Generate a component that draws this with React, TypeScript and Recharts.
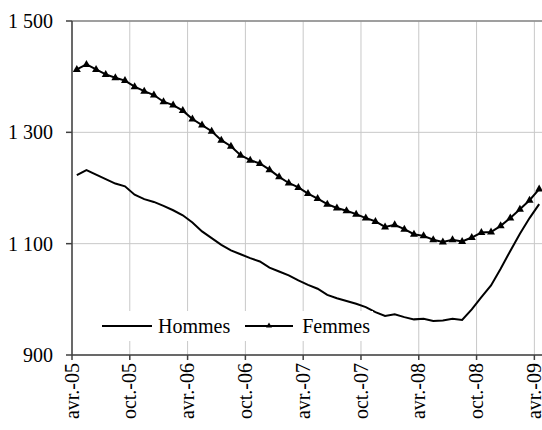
import { CartesianGrid, Line, LineChart, ReferenceLine, XAxis, YAxis } from 'recharts'

// Demandeurs d'emploi, avr.-05 à avr.-09 (milliers)
const MONTHS = [
    'avr.-05', 'mai-05', 'juin-05', 'juil.-05', 'août-05', 'sept.-05',
    'oct.-05', 'nov.-05', 'déc.-05', 'janv.-06', 'févr.-06', 'mars-06',
    'avr.-06', 'mai-06', 'juin-06', 'juil.-06', 'août-06', 'sept.-06',
    'oct.-06', 'nov.-06', 'déc.-06', 'janv.-07', 'févr.-07', 'mars-07',
    'avr.-07', 'mai-07', 'juin-07', 'juil.-07', 'août-07', 'sept.-07',
    'oct.-07', 'nov.-07', 'déc.-07', 'janv.-08', 'févr.-08', 'mars-08',
    'avr.-08', 'mai-08', 'juin-08', 'juil.-08', 'août-08', 'sept.-08',
    'oct.-08', 'nov.-08', 'déc.-08', 'janv.-09', 'févr.-09', 'mars-09',
    'avr.-09',
]

const HOMMES = [
    1223, 1232, 1224, 1216, 1208, 1203, 1188, 1180, 1175, 1168,
    1160, 1151, 1138, 1122, 1110, 1098, 1088, 1081, 1074, 1068,
    1057, 1050, 1043, 1034, 1026, 1019, 1008, 1002, 997, 992,
    986, 977, 970, 973, 968, 964, 965, 961, 962, 965,
    963, 982, 1004, 1025, 1055, 1087, 1118, 1146, 1171,
]

const FEMMES = [
    1413, 1422, 1413, 1404, 1398, 1393, 1382, 1374, 1367, 1355,
    1349, 1339, 1324, 1313, 1302, 1286, 1275, 1259, 1250, 1244,
    1233, 1220, 1209, 1201, 1190, 1181, 1171, 1164, 1159, 1153,
    1146, 1140, 1130, 1134, 1126, 1117, 1114, 1107, 1103, 1107,
    1104, 1111, 1120, 1121, 1132, 1146, 1162, 1178, 1198,
]

// labelled months (every 6 months)
const TICK_MONTHS = [0, 6, 12, 18, 24, 30, 36, 42, 48]
const Y_TICKS = [900, 1100, 1300, 1500]

const FONT = '"Liberation Serif", "Times New Roman", serif'

const data = MONTHS.map((month, i) => ({ i, month, hommes: HOMMES[i], femmes: FEMMES[i] }))
// ticks sit on the boundary before each labelled month
const xTicks = TICK_MONTHS.map((m) => m - 0.5)

const fmtY = (v: number) => (v >= 1000 ? `${Math.floor(v / 1000)} ${String(v % 1000).padStart(3, '0')}` : `${v}`)

const XTick = (props: any) => {
    const { x, y, payload } = props
    const label = MONTHS[Math.round(payload.value + 0.5)]
    return (
        <text
            x={x}
            y={y}
            transform={`rotate(-90, ${x}, ${y})`}
            textAnchor="end"
            dy="0.33em"
            fontSize={20}
            fontFamily={FONT}
            fill="#000"
        >
            {label}
        </text>
    )
}

const Triangle = (props: any) => {
    const { cx, cy } = props
    if (cx == null || cy == null) return null
    return <path d={`M${cx},${cy - 4.5} L${cx + 4},${cy + 2.5} L${cx - 4},${cy + 2.5} Z`} fill="#000" />
}

export default function App() {
    return (
        <div style={{ position: 'absolute', left: 0, top: 0, width: 542, height: 430, overflow: 'hidden', background: '#fff' }}>
            <LineChart
                width={560}
                height={430}
                data={data}
                margin={{ top: 21, right: 16, left: 12, bottom: 0 }}
            >
                <CartesianGrid stroke="#c8c8c8" strokeWidth={1} />
                <XAxis
                    dataKey="i"
                    type="number"
                    domain={[-0.5, 48.5]}
                    ticks={xTicks}
                    interval={0}
                    height={75}
                    tickSize={5}
                    tickMargin={3}
                    stroke="#404040"
                    strokeWidth={1.5}
                    tick={<XTick />}
                />
                <YAxis
                    domain={[900, 1500]}
                    ticks={Y_TICKS}
                    width={60}
                    tickSize={6}
                    tickMargin={13}
                    stroke="#404040"
                    strokeWidth={1.5}
                    tickFormatter={fmtY}
                    tick={{ fill: '#000', fontSize: 20, fontFamily: FONT }}
                />
                <ReferenceLine y={1500} stroke="#888" strokeWidth={1.5} />
                <Line
                    type="linear"
                    dataKey="hommes"
                    stroke="#000"
                    strokeWidth={2}
                    dot={false}
                    isAnimationActive={false}
                />
                <Line
                    type="linear"
                    dataKey="femmes"
                    stroke="#000"
                    strokeWidth={2}
                    dot={<Triangle />}
                    activeDot={false}
                    isAnimationActive={false}
                />
            </LineChart>
            {/* legend, boxed inside the plot like the original */}
            <div
                style={{
                    position: 'absolute',
                    left: 97,
                    top: 311,
                    width: 276,
                    height: 30,
                    background: '#fff',
                    display: 'flex',
                    alignItems: 'center',
                    fontFamily: FONT,
                    fontSize: 20,
                    color: '#000',
                    whiteSpace: 'nowrap',
                }}
            >
                <svg width={54} height={12} style={{ marginLeft: 4 }}>
                    <line x1={1} y1={6} x2={51} y2={6} stroke="#000" strokeWidth={2} />
                </svg>
                <span style={{ marginLeft: 3 }}>Hommes</span>
                <svg width={52} height={12} style={{ marginLeft: 14 }}>
                    <line x1={1} y1={6} x2={49} y2={6} stroke="#000" strokeWidth={2} />
                    <path d="M25,2.5 L28,7.5 L22,7.5 Z" fill="#000" />
                </svg>
                <span style={{ marginLeft: 6 }}>Femmes</span>
            </div>
        </div>
    )
}
